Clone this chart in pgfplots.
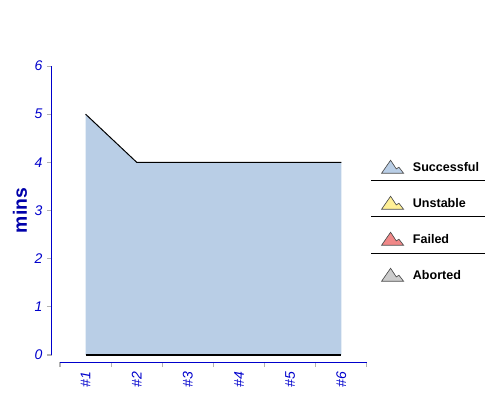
\documentclass[border=0pt]{standalone}
\usepackage{fontspec}
\setmainfont{Liberation Sans}
\usepackage{pgfplots}
\pgfplotsset{compat=1.18}
\definecolor{axblue}{RGB}{0,0,204}
\definecolor{areablue}{RGB}{185,206,230}
\definecolor{unst}{RGB}{255,240,150}
\definecolor{fail}{RGB}{240,136,136}
\definecolor{abrt}{RGB}{204,204,204}
\definecolor{lblblue}{RGB}{0,0,170}
\begin{document}
\begin{tikzpicture}
\path[use as bounding box] (0,0) rectangle (375pt,300pt);
\begin{axis}[
  at={(45pt,33.75pt)}, anchor=south west,
  scale only axis, width=230.25pt, height=216.75pt,
  xmin=-0.5, xmax=5.5, ymin=0, ymax=6,
  clip=false,
  axis x line*=bottom, axis y line*=left,
  axis x line shift=5.25pt, axis y line shift=6pt,
  axis line style={axblue, line width=0.75pt},
  ytick={0,...,6},
  xtick={0,...,5},
  xticklabels={\#1,\#2,\#3,\#4,\#5,\#6},
  minor xtick={-0.5,0.5,...,5.5},
  tick align=outside,
  major tick length=3.75pt, minor tick length=3.75pt,
  major x tick style={draw=none},
  minor x tick style={draw=gray!60, line width=0.75pt},
  ytick style={draw=gray!60, line width=0.75pt},
  /pgf/number format/assume math mode=true,
  yticklabel style={font=\fontsize{10.5}{12}\selectfont\itshape, text=axblue},
  xticklabel style={font=\fontsize{10.5}{12}\selectfont\itshape, text=axblue, rotate=90, anchor=east},
  ylabel={mins},
  every axis y label/.style={at={(axis description cs:-0.13,0.5)}, rotate=90, anchor=center, font=\bfseries\fontsize{14.5}{16}\selectfont, text=lblblue},
  legend image code/.code={\draw[#1, line width=0.5pt] (0pt,-4pt) -- (6.75pt,5.75pt) -- (11pt,-0.75pt) -- (13pt,0.5pt) -- (16.5pt,-4pt) -- cycle;},
  legend style={at={(axis description cs:1.0456,0.676)}, anchor=north west, draw=none, fill=none, inner sep=0pt,
    row sep=16.5pt,
    nodes={font=\bfseries\fontsize{9.4}{11}\selectfont, inner sep=0pt, text height=7pt, text depth=2pt},
    /tikz/every odd column/.append style={column sep=6.75pt}},
  legend cell align=left,
]
\addplot[fill=areablue, draw=none, forget plot] coordinates {(0,5) (1,4) (2,4) (3,4) (4,4) (5,4)} \closedcycle;
\addplot[black, line width=0.75pt, forget plot] coordinates {(0,5) (1,4) (2,4) (3,4) (4,4) (5,4)};
\addplot[black, line width=0.75pt, forget plot] coordinates {(0,0) (5,0)};
\addlegendimage{fill=areablue, draw=black!70}
\addlegendentry{Successful}
\addlegendimage{fill=unst, draw=black!70}
\addlegendentry{Unstable}
\addlegendimage{fill=fail, draw=black!70}
\addlegendentry{Failed}
\addlegendimage{fill=abrt, draw=black!70}
\addlegendentry{Aborted}
\end{axis}
\draw[black, line width=0.75pt] (278.25pt,164.25pt) -- (363.75pt,164.25pt);
\draw[black, line width=0.75pt] (278.25pt,137.25pt) -- (363.75pt,137.25pt);
\draw[black, line width=0.75pt] (278.25pt,109.5pt) -- (363.75pt,109.5pt);
\end{tikzpicture}
\end{document}
